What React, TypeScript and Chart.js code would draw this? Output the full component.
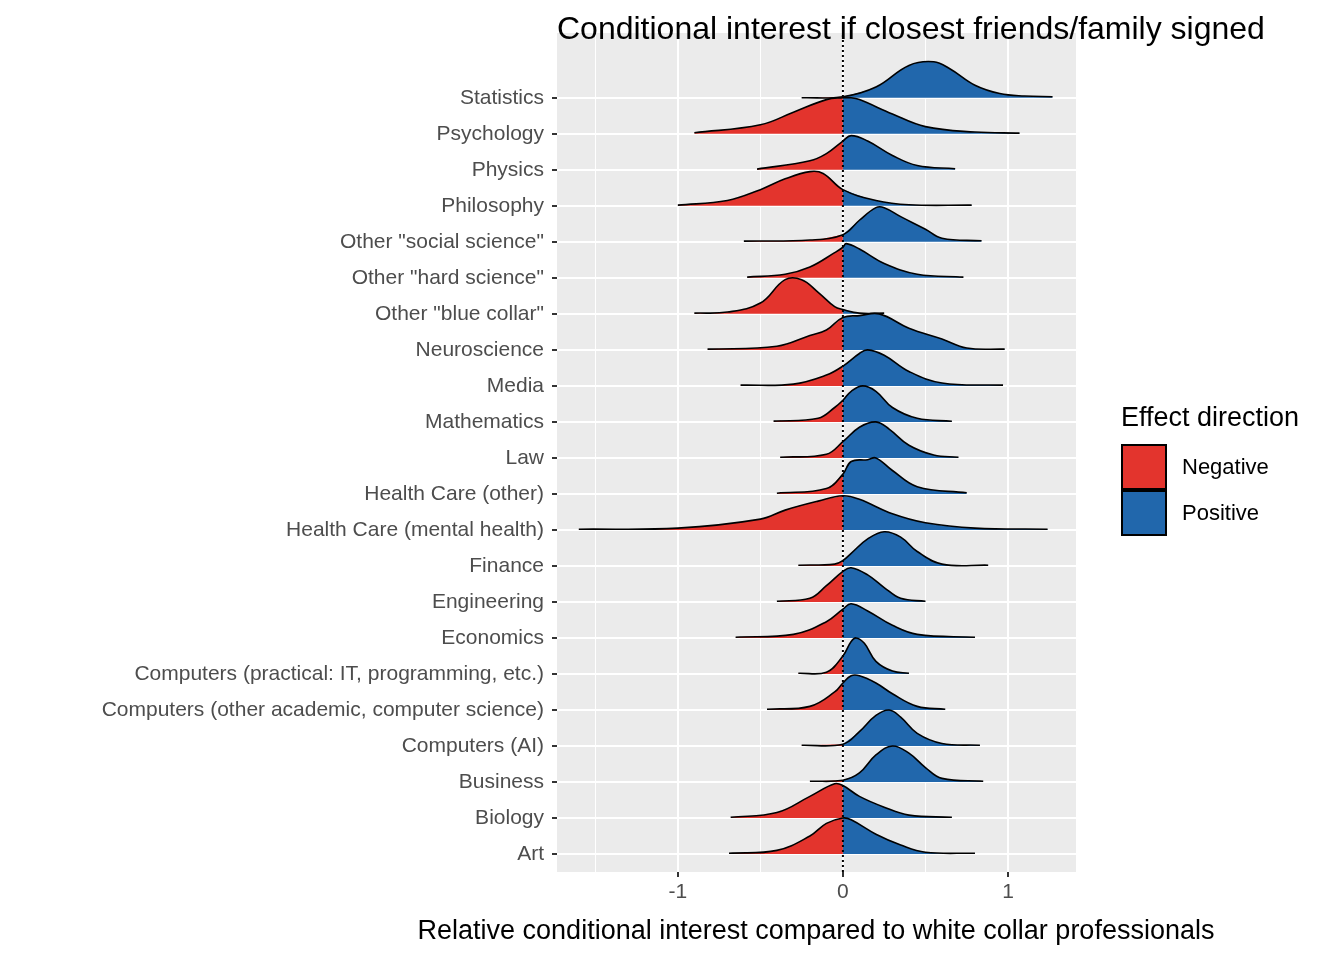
import { useEffect, useRef } from "react"
import { Chart, registerables } from "chart.js"

Chart.register(...registerables)

// bottom to top
const categories = [
  "Art", "Biology", "Business", "Computers (AI)",
  "Computers (other academic, computer science)",
  "Computers (practical: IT, programming, etc.)",
  "Economics", "Engineering", "Finance", "Health Care (mental health)",
  "Health Care (other)", "Law", "Mathematics", "Media", "Neuroscience",
  'Other "blue collar"', 'Other "hard science"', 'Other "social science"',
  "Philosophy", "Physics", "Psychology", "Statistics",
]

// density curves as [x, height in row units], same order as categories
const densities: number[][][] = [
  [[-0.69, 0.02], [-0.4, 0.1], [-0.2, 0.5], [-0.1, 0.85], [0, 1.0], [0.05, 0.95], [0.2, 0.55], [0.35, 0.25], [0.5, 0.05], [0.8, 0.02]],
  [[-0.68, 0.02], [-0.4, 0.15], [-0.2, 0.6], [-0.05, 0.95], [0, 0.9], [0.1, 0.6], [0.25, 0.3], [0.4, 0.08], [0.66, 0.02]],
  [[-0.2, 0.02], [0, 0.05], [0.1, 0.25], [0.2, 0.75], [0.3, 1.0], [0.4, 0.8], [0.5, 0.4], [0.6, 0.1], [0.85, 0.02]],
  [[-0.25, 0.02], [0, 0.05], [0.1, 0.4], [0.2, 0.85], [0.28, 1.0], [0.35, 0.8], [0.45, 0.35], [0.6, 0.07], [0.83, 0.02]],
  [[-0.46, 0.02], [-0.2, 0.1], [-0.05, 0.5], [0, 0.75], [0.05, 0.95], [0.1, 0.95], [0.2, 0.75], [0.3, 0.45], [0.45, 0.1], [0.62, 0.02]],
  [[-0.27, 0.02], [-0.1, 0.05], [0, 0.5], [0.05, 0.9], [0.08, 1.0], [0.13, 0.85], [0.2, 0.35], [0.3, 0.08], [0.4, 0.02]],
  [[-0.65, 0.02], [-0.3, 0.1], [-0.1, 0.45], [0, 0.8], [0.05, 0.95], [0.15, 0.75], [0.3, 0.35], [0.45, 0.1], [0.8, 0.02]],
  [[-0.4, 0.02], [-0.2, 0.1], [-0.1, 0.45], [0, 0.85], [0.05, 0.95], [0.15, 0.75], [0.25, 0.4], [0.35, 0.1], [0.5, 0.02]],
  [[-0.27, 0.02], [-0.05, 0.05], [0, 0.15], [0.05, 0.35], [0.15, 0.75], [0.25, 0.95], [0.35, 0.8], [0.45, 0.4], [0.6, 0.05], [0.88, 0.02]],
  [[-1.6, 0.02], [-1.0, 0.05], [-0.5, 0.3], [-0.35, 0.55], [-0.15, 0.8], [0, 0.95], [0.1, 0.85], [0.3, 0.45], [0.5, 0.2], [0.8, 0.05], [1.24, 0.02]],
  [[-0.4, 0.02], [-0.1, 0.15], [0, 0.55], [0.05, 0.9], [0.15, 0.95], [0.2, 1.0], [0.3, 0.65], [0.45, 0.2], [0.75, 0.03]],
  [[-0.38, 0.02], [-0.1, 0.1], [0, 0.45], [0.1, 0.85], [0.2, 1.0], [0.28, 0.8], [0.4, 0.35], [0.55, 0.08], [0.7, 0.02]],
  [[-0.42, 0.02], [-0.15, 0.1], [-0.05, 0.4], [0, 0.6], [0.05, 0.85], [0.12, 1.0], [0.2, 0.85], [0.3, 0.4], [0.45, 0.1], [0.66, 0.02]],
  [[-0.62, 0.02], [-0.3, 0.05], [-0.1, 0.3], [0, 0.55], [0.1, 0.9], [0.15, 1.0], [0.25, 0.85], [0.4, 0.4], [0.6, 0.08], [0.97, 0.02]],
  [[-0.82, 0.02], [-0.4, 0.1], [-0.2, 0.4], [-0.1, 0.55], [0, 0.9], [0.1, 0.95], [0.22, 1.0], [0.4, 0.6], [0.6, 0.3], [0.75, 0.05], [0.98, 0.02]],
  [[-0.9, 0.02], [-0.7, 0.05], [-0.5, 0.3], [-0.35, 0.95], [-0.25, 0.95], [-0.15, 0.6], [-0.05, 0.2], [0, 0.12], [0.1, 0.02], [0.25, 0.02]],
  [[-0.58, 0.02], [-0.35, 0.1], [-0.2, 0.3], [-0.05, 0.7], [0, 0.85], [0.02, 0.95], [0.1, 0.8], [0.25, 0.4], [0.45, 0.1], [0.73, 0.02]],
  [[-0.6, 0.02], [-0.2, 0.05], [0, 0.2], [0.1, 0.6], [0.2, 0.95], [0.25, 0.95], [0.35, 0.7], [0.5, 0.35], [0.6, 0.1], [0.84, 0.03]],
  [[-1.0, 0.02], [-0.7, 0.15], [-0.5, 0.45], [-0.35, 0.75], [-0.2, 0.95], [-0.12, 0.9], [0, 0.45], [0.2, 0.15], [0.4, 0.03], [0.78, 0.02]],
  [[-0.52, 0.02], [-0.2, 0.25], [-0.1, 0.45], [0, 0.8], [0.05, 0.95], [0.15, 0.8], [0.3, 0.4], [0.45, 0.12], [0.68, 0.03]],
  [[-0.9, 0.03], [-0.5, 0.25], [-0.3, 0.6], [-0.1, 0.95], [0, 1.0], [0.05, 1.0], [0.1, 0.95], [0.3, 0.55], [0.5, 0.2], [0.8, 0.05], [1.07, 0.02]],
  [[-0.25, 0], [0, 0.03], [0.2, 0.3], [0.4, 0.9], [0.55, 1.0], [0.65, 0.8], [0.8, 0.35], [0.95, 0.12], [1.1, 0.05], [1.27, 0.03]],
]

const xTicks = [-1.5, -1, -0.5, 0, 0.5, 1]
const negColor = "#E3342D"
const posColor = "#2167AC"
const font = "'Liberation Sans', Arial, sans-serif"

export default function App() {
  const chartRef = useRef<HTMLCanvasElement>(null)

  useEffect(() => {
    if (!chartRef.current) return
    const datasets: any[] = []
    densities.forEach((pts, i) => {
      const all = pts.map(([x, h]) => ({ x, y: i + h }))
      const neg = pts.filter(([x]) => x <= 0).map(([x, h]) => ({ x, y: i + h }))
      const pos = pts.filter(([x]) => x >= 0).map(([x, h]) => ({ x, y: i + h }))
      const base = { pointRadius: 0, tension: 0.4, borderWidth: 0 }
      datasets.push({ ...base, data: neg, fill: { value: i }, backgroundColor: negColor, borderColor: "transparent", order: i * 3 + 2 })
      datasets.push({ ...base, data: pos, fill: { value: i }, backgroundColor: posColor, borderColor: "transparent", order: i * 3 + 1 })
      datasets.push({ ...base, data: all, fill: false, borderColor: "#000", borderWidth: 1.6, order: i * 3 })
    })
    datasets.push({
      data: [{ x: 0, y: -0.5 }, { x: 0, y: 22.8 }],
      borderColor: "#000", borderWidth: 2, borderDash: [2, 3], pointRadius: 0, fill: false, order: -1,
    })

    const bg = {
      id: "panelBg",
      beforeDraw(chart: Chart) {
        const { ctx, chartArea: a } = chart
        ctx.save()
        ctx.fillStyle = "#EBEBEB"
        ctx.fillRect(a.left, a.top, a.right - a.left, a.bottom - a.top)
        ctx.restore()
      },
    }

    const chart = new Chart(chartRef.current, {
      type: "line",
      data: { datasets },
      plugins: [bg],
      options: {
        animation: false,
        responsive: false,
        layout: { padding: { left: 0, right: 268, top: 33, bottom: 0 } },
        plugins: { legend: { display: false }, tooltip: { enabled: false } },
        scales: {
          x: {
            type: "linear", min: -1.732, max: 1.412,
            afterBuildTicks: (s: any) => { s.ticks = xTicks.map((v) => ({ value: v })) },
            afterFit: (s: any) => { s.height = 88 },
            ticks: {
              color: "#4D4D4D", font: { family: font, size: 21 }, padding: 3,
              callback: (v: any) => (Number.isInteger(v) ? String(v) : ""),
            },
            grid: {
              color: "#fff",
              lineWidth: (c: any) => (Number.isInteger(c.tick?.value) ? 2 : 1),
              tickColor: (c: any) => (Number.isInteger(c.tick?.value) ? "#333" : "transparent"),
              tickLength: 5,
            },
            border: { display: false },
          },
          y: {
            type: "linear", min: -0.5, max: 22.8,
            afterBuildTicks: (s: any) => { s.ticks = categories.map((_, i) => ({ value: i })) },
            afterFit: (s: any) => { s.width = 557 },
            ticks: {
              color: "#4D4D4D", font: { family: font, size: 21 }, padding: 8,
              callback: (v: any) => categories[v] ?? "",
            },
            grid: { color: "#fff", lineWidth: 2, tickColor: "#333", tickLength: 5 },
            border: { display: false },
          },
        },
      },
    })
    return () => chart.destroy()
  }, [])

  return (
    <div style={{ position: "fixed", left: 0, top: 0, width: 1344, height: 960, background: "#fff", fontFamily: font }}>
      <canvas ref={chartRef} width={1344} height={960} style={{ width: 1344, height: 960 }} />
      <div style={{ position: "absolute", left: 557, top: 8, fontSize: 32, lineHeight: "40px", whiteSpace: "nowrap", color: "#000" }}>
        Conditional interest if closest friends/family signed
      </div>
      <div style={{ position: "absolute", left: 816, top: 912, transform: "translateX(-50%)", fontSize: 27, lineHeight: "36px", whiteSpace: "nowrap" }}>
        Relative conditional interest compared to white collar professionals
      </div>
      <div style={{ position: "absolute", left: 1121, top: 399, fontSize: 27, lineHeight: "36px", whiteSpace: "nowrap" }}>Effect direction</div>
      {[["Negative", negColor], ["Positive", posColor]].map(([label, c], k) => (
        <div key={label} style={{ position: "absolute", left: 1121, top: 444 + k * 46, display: "flex", alignItems: "center" }}>
          <div style={{ width: 42, height: 42, background: c, border: "2px solid #000" }} />
          <span style={{ marginLeft: 15, fontSize: 22 }}>{label}</span>
        </div>
      ))}
    </div>
  )
}
